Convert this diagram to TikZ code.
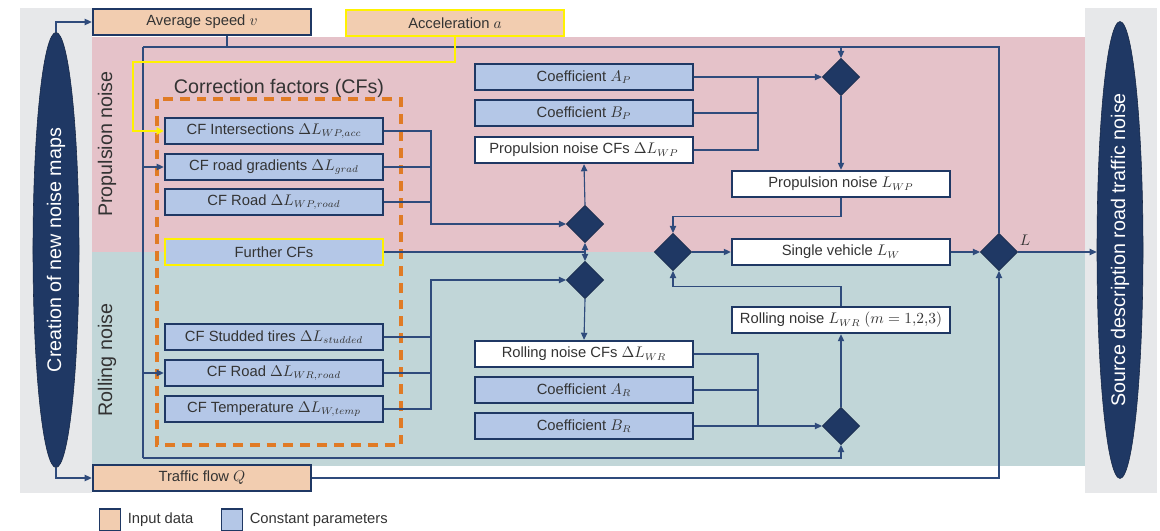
\documentclass[tikz,border=0pt]{standalone}
\usepackage{fontspec}
\setmainfont{Liberation Sans}
\usetikzlibrary{positioning, arrows.meta, shapes.geometric}

\definecolor{navy}{HTML}{1F3864}
\definecolor{linec}{HTML}{2F4B7C}
\definecolor{peach}{HTML}{F2CDB0}
\definecolor{blueb}{HTML}{B4C7E7}
\definecolor{pinkbg}{HTML}{E5C2C9}
\definecolor{tealbg}{HTML}{C1D6D8}
\definecolor{greybg}{HTML}{E7E8EA}
\definecolor{cforange}{HTML}{E07B25}

\begin{document}
\begin{tikzpicture}[x=0.025cm, y=-0.025cm,
	font=\fontsize{10.5}{12}\selectfont,
	box/.style={draw=navy, line width=1.7pt, minimum width=5.45cm, minimum height=0.65cm, inner sep=1pt, text=black!80},
	inbox/.style={box, fill=peach},
	cbox/.style={box, fill=blueb},
	wbox/.style={box, fill=white},
	junction/.style={diamond, fill=navy, draw=navy!80!black, line width=0.6pt, minimum width=0.93cm, minimum height=0.93cm, inner sep=0pt},
	pill/.style={ellipse, fill=navy, draw=navy!70!black, minimum width=1.15cm, minimum height=10.875cm, text=white, font=\fontsize{14}{16}\selectfont},
	big/.style={font=\fontsize{14}{16}\selectfont, text=black!80},
	line/.style={draw=linec, line width=0.8pt},
	arr/.style={line, -{Triangle[length=5pt, width=4.5pt]}},
	yarr/.style={draw=yellow, line width=1.6pt, -{Triangle[length=5pt, width=5pt]}},
	cfframe/.style={draw=cforange, line width=2.2pt, dash pattern=on 7pt off 5pt}]

	\useasboundingbox (0,0) rectangle (1160,531);
	\fill[greybg] (20,8) rectangle (92,493);
	\fill[greybg] (1085,8) rectangle (1157,493);
	\fill[pinkbg] (92,37) rectangle (1085,252);
	\fill[tealbg] (92,252) rectangle (1085,466);

	\node[pill] (newmaps) at (56,250) {\rotatebox{90}{Creation of new noise maps}};
	\node[pill] (target) at (1120,250) {\rotatebox{90}{Source description road traffic noise}};

	\node[big, rotate=90] (plabel) at (107,144) {Propulsion noise};
	\node[big, rotate=90] (rlabel) at (107,360) {Rolling noise};
	\node[big] (cftitle) at (279,88) {Correction factors (CFs)};
	\draw[cfframe] (157,99) rectangle (401,445);

	\node[inbox] (speed) at (202,22) {Average speed $v$};
	\node[inbox, draw=yellow] (accel) at (455,23) {Acceleration $a$};
	\node[inbox] (flow) at (202,478) {Traffic flow $Q$};

	\node[cbox] (cfint) at (274,131) {CF Intersections $\Delta L_{WP,acc}$};
	\node[cbox] (cfgrad) at (274,167) {CF road gradients $\Delta L_{grad}$};
	\node[cbox] (cfwp) at (274,202) {CF Road $\Delta L_{WP,road}$};
	\node[cbox, draw=yellow] (further) at (274,252) {Further CFs};
	\node[cbox] (cfstud) at (274,337) {CF Studded tires $\Delta L_{studded}$};
	\node[cbox] (cfwr) at (274,373) {CF Road $\Delta L_{WR,road}$};
	\node[cbox] (cftemp) at (274,409) {CF Temperature $\Delta L_{W,temp}$};

	\node[cbox] (coefap) at (584,77) {Coefficient $A_P$};
	\node[cbox] (coefbp) at (584,113) {Coefficient $B_P$};
	\node[wbox] (pcfs) at (584,150) {Propulsion noise CFs $\Delta L_{WP}$};
	\node[wbox] (rcfs) at (584,354) {Rolling noise CFs $\Delta L_{WR}$};
	\node[cbox] (coefar) at (584,390) {Coefficient $A_R$};
	\node[cbox] (coefbr) at (584,426) {Coefficient $B_R$};

	\node[wbox] (pnoise) at (841,184) {Propulsion noise $L_{WP}$};
	\node[wbox] (single) at (841,252) {Single vehicle $L_W$};
	\node[wbox] (rnoise) at (841,320) {Rolling noise $L_{WR}$ $(m=1{,}2{,}3)$};

	\node[junction] (dpcf) at (585,224) {};
	\node[junction] (drcf) at (585,280) {};
	\node[junction] (dp) at (841,77) {};
	\node[junction] (dr) at (841,426) {};
	\node[junction] (dw) at (673,252) {};
	\node[junction] (dl) at (999,252) {};
	\node[text=black!80] (llabel) at (1025,240) {$L$};

	\node[inbox, minimum width=0.525cm, minimum height=0.55cm, line width=1.3pt] (leginput) at (110,520) {};
	\node[right=1pt of leginput, text=black!80] (leginputtxt) {Input data};
	\node[cbox, minimum width=0.525cm, minimum height=0.55cm, line width=1.3pt] (legconst) at (232,520) {};
	\node[right=1pt of legconst, text=black!80] (legconsttxt) {Constant parameters};

	\coordinate (sp) at (227,47);
	\coordinate (ltop) at (143,47);
	\coordinate (rtop) at (999,47);
	\coordinate (lbot) at (143,458);
	\coordinate (yc) at (133,62);
	\coordinate (pb) at (431,224);
	\coordinate (rb) at (431,280);
	\coordinate (cb) at (758,77);
	\coordinate (cr) at (758,426);

	\draw[arr] (newmaps.north) |- (speed.west);
	\draw[arr] (newmaps.south) |- (flow.west);

	\draw[line] (speed.south -| sp) -- (sp);
	\draw[line] (ltop) -- (rtop) -- (dl.north);
	\draw[arr] (ltop -| dp) -- (dp.north);
	\draw[line] (ltop) -- (lbot);
	\draw[arr] (lbot) -| (dr.south);
	\draw[arr] (ltop |- cfgrad) -- (cfgrad.west);
	\draw[arr] (ltop |- cfwr) -- (cfwr.west);
	\draw[yarr] (accel.south) |- (yc) |- (cfint.west);
	\draw[arr] (flow.east) -| (dl.south);

	\draw[arr] (cfint.east) -| (pb) -- (dpcf.west);
	\draw[line] (cfgrad.east) -- (cfgrad.east -| pb);
	\draw[line] (cfwp.east) -- (cfwp.east -| pb);
	\draw[arr] (cftemp.east) -| (rb) -- (drcf.west);
	\draw[line] (cfstud.east) -- (cfstud.east -| rb);
	\draw[line] (cfwr.east) -- (cfwr.east -| rb);
	\draw[line] (further.east) -- (further.east -| dpcf);
	\draw[arr] (further.east -| dpcf) -- (dpcf.south);
	\draw[arr] (further.east -| dpcf) -- (drcf.north);
	\draw[arr] (dpcf.north) -- (pcfs.south);
	\draw[arr] (drcf.south) -- (rcfs.north);

	\draw[arr] (coefap.east) -- (dp.west);
	\draw[line] (coefbp.east) -- (coefbp.east -| cb);
	\draw[line] (pcfs.east) -| (cb);
	\draw[arr] (coefbr.east) -- (dr.west);
	\draw[line] (coefar.east) -- (coefar.east -| cr);
	\draw[line] (rcfs.east) -| (cr);

	\draw[arr] (dp.south) -- (pnoise.north);
	\draw[arr] (dr.north) -- (rnoise.south);
	\draw[arr] (pnoise.south) -- ++(0,18) -| (dw.north);
	\draw[arr] (rnoise.north) -- ++(0,-19) -| (dw.south);
	\draw[arr] (dw.east) -- (single.west);
	\draw[arr] (single.east) -- (dl.west);
	\draw[arr] (dl.east) -- (dl.east -| target.west);
\end{tikzpicture}
\end{document}
